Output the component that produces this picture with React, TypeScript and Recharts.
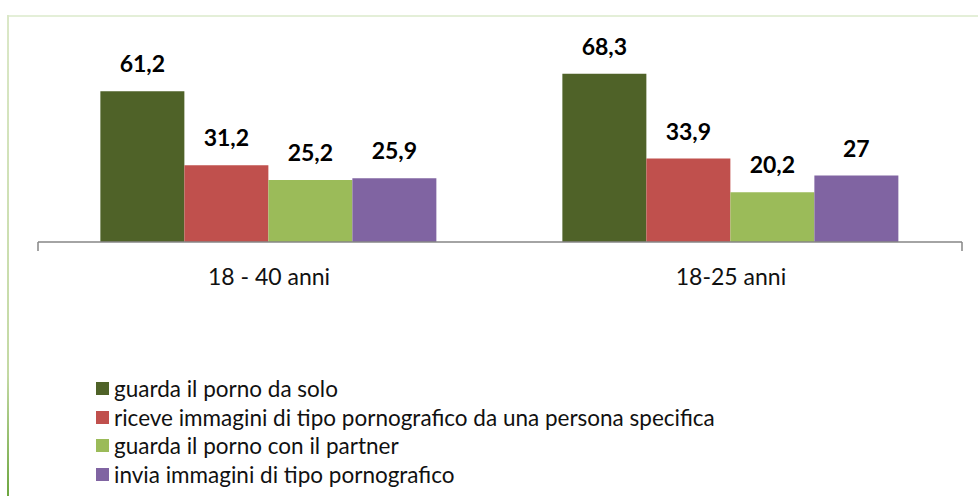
import { BarChart, Bar, XAxis, YAxis, LabelList } from "recharts";

const categories = ["18 - 40 anni", "18-25 anni"];
const seriesNames = [
  "guarda il porno da solo",
  "riceve immagini di tipo pornografico da una persona specifica",
  "guarda il porno con il partner",
  "invia immagini di tipo pornografico",
];
const soloValues = [61.2, 68.3];
const riceveValues = [31.2, 33.9];
const partnerValues = [25.2, 20.2];
const inviaValues = [25.9, 27];
const colors = ["#4f6228", "#c0504d", "#9bbb59", "#8064a2"];
const keys = ["solo", "riceve", "partner", "invia"];
const edgeTicks = [0, 1, 2];

const data = categories.map((name, i) => ({
  name,
  solo: soloValues[i],
  riceve: riceveValues[i],
  partner: partnerValues[i],
  invia: inviaValues[i],
}));

const font = "Lato, 'Open Sans', sans-serif";
const fmt = (v: any) => String(v).replace(".", ",");

const App = () => {
  return (
    <div style={{ position: "absolute", left: 0, top: 0, width: 978, height: 496, background: "#fff", fontFamily: font, overflow: "hidden" }}>
      {/* frame */}
      <div style={{ position: "absolute", left: 8, top: 15, width: 970, height: 2, background: "#e4efd8" }} />
      <div style={{ position: "absolute", left: 7, top: 15, width: 2, height: 481, background: "linear-gradient(#dbe8c8, #c3d9a3 75%, #6da63f)" }} />

      <div style={{ position: "absolute", left: 0, top: 0 }}>
        <BarChart
          width={978}
          height={305}
          data={data}
          margin={{ top: 45, right: 16, left: 38, bottom: 2 }}
          barCategoryGap="13.5%"
          barGap={0}
        >
          <XAxis
            type="number"
            domain={[0, 2]}
            ticks={edgeTicks}
            height={11}
            stroke="#868686"
            strokeWidth={1.5}
            tickSize={9}
            tickFormatter={() => ""}
          />
          <XAxis
            xAxisId="cat"
            dataKey="name"
            axisLine={false}
            tickLine={false}
            height={50}
            tick={{ fill: "#111", fontSize: 23, fontFamily: font }}
            tickMargin={10}
          />
          <YAxis hide domain={[0, 80]} />
          {keys.map((k, i) => (
            <Bar key={k} xAxisId="cat" dataKey={k} name={seriesNames[i]} fill={colors[i]} isAnimationActive={false}>
              <LabelList
                dataKey={k}
                position="top"
                offset={19}
                formatter={fmt}
                style={{ fill: "#000", fontSize: 23, fontWeight: 700, fontFamily: font }}
              />
            </Bar>
          ))}
        </BarChart>
      </div>

      {/* legend */}
      <div style={{ position: "absolute", left: 96, top: 374 }}>
        {seriesNames.map((n, i) => (
          <div key={n} style={{ display: "flex", alignItems: "center", height: 28.7, fontSize: 22.5, color: "#111" }}>
            <span style={{ width: 13, height: 13, background: colors[i], marginRight: 5, display: "inline-block" }} />
            <span>{n}</span>
          </div>
        ))}
      </div>
    </div>
  );
};

export default App;
